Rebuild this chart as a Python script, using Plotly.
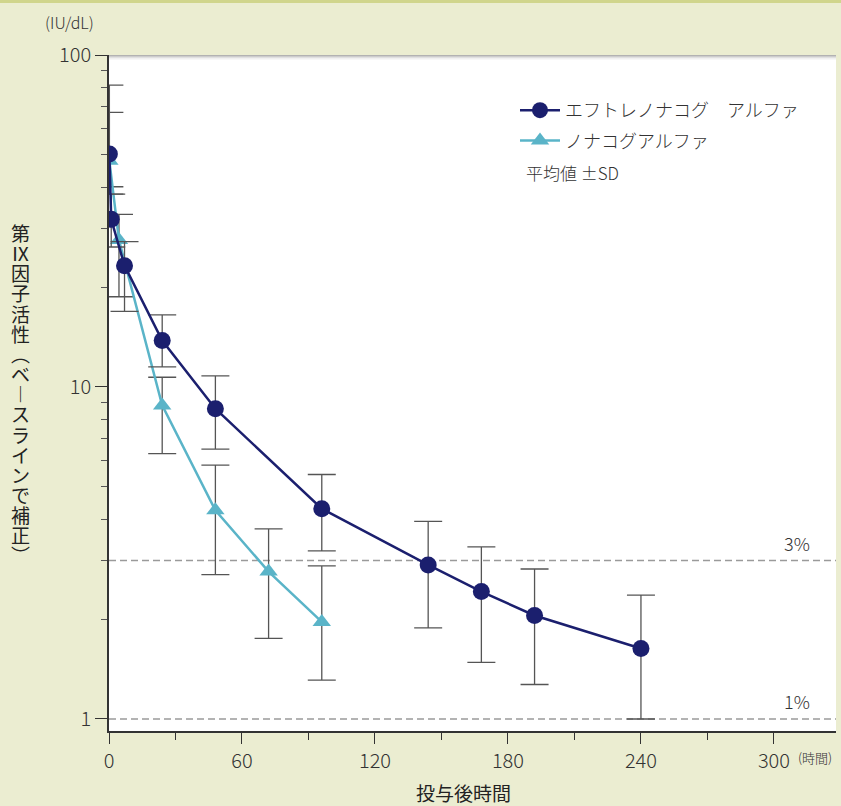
import plotly.graph_objects as go
import math

# Factor IX activity (baseline-corrected), mean ± SD, by time after dosing (h)
eft_time = [0.17, 1, 7, 24, 48, 96, 144, 168, 192, 240]
eft_mean = [50.3, 32.0, 23.2, 13.8, 8.6, 4.3, 2.91, 2.42, 2.05, 1.63]
eft_upper = [67.2, 38.1, 27.4, 16.5, 10.8, 5.45, 3.94, 3.30, 2.83, 2.36]
eft_lower = [38.1, 26.4, 16.9, 11.5, 6.5, 3.21, 1.88, 1.48, 1.27, 1.00]

non_time = [0.17, 4.5, 24, 48, 72, 96]
non_mean = [48.0, 27.7, 8.8, 4.25, 2.78, 1.96]
non_upper = [81.2, 33.1, 10.7, 5.82, 3.74, 2.89]
non_lower = [40.1, 18.7, 6.3, 2.72, 1.75, 1.31]

ref_levels = [3, 1]
ref_labels = ["3%", "1%"]

x_ticks = [0, 60, 120, 180, 240, 300]
y_ticks = [1, 10, 100]

series_names = ["エフトレノナコグ\u3000アルファ", "ノナコグアルファ"]
y_title_chars = list("第Ⅸ因子活性") + ["︵"] + list("ベ") + ["︱"] + list("スラインで補正") + ["︶"]

NAVY = "#1b1f6e"
CYAN = "#5ab4c8"
INK = "#333333"
BG = "#ebedd1"
FONT = "Noto Sans CJK JP"

W, H = 841, 806
L, R, T, B = 109, 5, 55, 75
PW, PH = W - L - R, H - T - B


def px_x(p):
    return (p - L) / PW


def px_y(p):
    return (H - B - p) / PH


fig = go.Figure()

# dashed reference levels
for lvl in ref_levels:
    fig.add_trace(go.Scatter(
        x=[0, 328], y=[lvl, lvl], mode="lines",
        line=dict(color="#9a9a9a", width=1.5, dash="7px,4px"),
        showlegend=False, hoverinfo="skip",
    ))

fig.add_trace(go.Scatter(
    x=non_time, y=non_mean, name=series_names[1], legendrank=2, legendgroup="non",
    mode="lines+markers",
    line=dict(color=CYAN, width=2.5),
    marker=dict(symbol="triangle-up", size=16, color=CYAN),
    error_y=dict(type="data", symmetric=False,
                 array=[u - m for u, m in zip(non_upper, non_mean)],
                 arrayminus=[m - l for m, l in zip(non_mean, non_lower)],
                 color="#555555", thickness=1.3, width=14),
))

fig.add_trace(go.Scatter(
    x=eft_time, y=eft_mean, name=series_names[0], legendrank=1, legendgroup="eft",
    mode="lines+markers",
    line=dict(color=NAVY, width=2.5),
    marker=dict(symbol="circle", size=17, color=NAVY),
    error_y=dict(type="data", symmetric=False,
                 array=[u - m for u, m in zip(eft_upper, eft_mean)],
                 arrayminus=[m - l for m, l in zip(eft_mean, eft_lower)],
                 color="#555555", thickness=1.3, width=14),
))

annotations = []
for lvl, lab in zip(ref_levels, ref_labels):
    annotations.append(dict(
        x=px_x(812), xref="paper", xanchor="right",
        y=math.log10(lvl), yref="y", yanchor="bottom", yshift=3,
        text=lab, showarrow=False, font=dict(size=18, color=INK, family=FONT, weight=300),
    ))

# vertical-writing axis title: line pitch follows the base size, glyphs drawn larger
title_text = "<br>".join(f'<span style="font-size:19px">{ch}</span>' for ch in y_title_chars)

annotations += [
    dict(x=px_x(69), y=px_y(22), xref="paper", yref="paper", text="(IU/dL)",
         showarrow=False, xanchor="center", yanchor="middle",
         font=dict(size=16, color=INK, family=FONT, weight=300)),
    dict(x=px_x(796), y=px_y(757), xref="paper", yref="paper", text="(時間)",
         showarrow=False, xanchor="left", yanchor="middle",
         font=dict(size=13, color=INK, family=FONT, weight=300)),
    dict(x=px_x(463), y=px_y(793), xref="paper", yref="paper", text="投与後時間",
         showarrow=False, xanchor="center", yanchor="middle",
         font=dict(size=19, color="#222222", family=FONT)),
    dict(x=px_x(524), y=px_y(172), xref="paper", yref="paper", text="平均値 ±SD",
         showarrow=False, xanchor="left", yanchor="middle",
         font=dict(size=17, color=INK, family=FONT, weight=300)),
    dict(x=px_x(20), y=px_y(393), xref="paper", yref="paper",
         text=title_text, showarrow=False,
         xanchor="center", yanchor="middle", align="center",
         font=dict(size=15.5, color="#222222", family=FONT)),
]

shapes = [
    # olive rule across the top of the page
    dict(type="rect", xref="paper", yref="paper",
         x0=px_x(0), x1=px_x(W), y0=px_y(3), y1=px_y(-2),
         fillcolor="#d0d58c", line=dict(width=0), layer="above"),
]
# soft shadow under the top edge of the panel
for k, a in enumerate([0.30, 0.20, 0.12, 0.06, 0.03]):
    shapes.append(dict(type="rect", xref="paper", yref="paper",
                       x0=0, x1=1, y0=px_y(T + k + 1), y1=px_y(T + k),
                       fillcolor=f"rgba(0,0,0,{a})", line=dict(width=0), layer="below"))

fig.update_layout(
    width=W, height=H,
    margin=dict(l=L, r=R, t=T, b=B, pad=0),
    paper_bgcolor=BG, plot_bgcolor="white",
    font=dict(family=FONT, color=INK),
    showlegend=True,
    legend=dict(x=px_x(515), y=px_y(92), xanchor="left", yanchor="top",
                bgcolor="rgba(0,0,0,0)", font=dict(size=18, color=INK, family=FONT, weight=300),
                itemwidth=40, tracegroupgap=4),
    annotations=annotations,
    shapes=shapes,
    xaxis=dict(
        range=[0, 328], tickvals=x_ticks, ticks="outside", ticklen=11, tickwidth=1.3,
        tickcolor=INK, showline=True, linecolor=INK, linewidth=1.6,
        showgrid=False, zeroline=False,
        tickfont=dict(size=20, color=INK, family=FONT, weight=300),
        minor=dict(dtick=30, ticks="outside", ticklen=7, tickwidth=1.3, tickcolor=INK, showgrid=False),
    ),
    yaxis=dict(
        type="log", range=[math.log10(0.92), 2], tickvals=y_ticks, ticktext=["1", "10", "100"],
        ticks="outside", ticklen=12, tickwidth=1.3, tickcolor=INK,
        showline=True, linecolor=INK, linewidth=1.6, showgrid=False, zeroline=False,
        tickfont=dict(size=20, color=INK, family=FONT, weight=300),
        minor=dict(dtick="D1", ticks="outside", ticklen=6, tickwidth=1.3, tickcolor="#555555", showgrid=False),
    ),
)

fig.write_html("out.html")
